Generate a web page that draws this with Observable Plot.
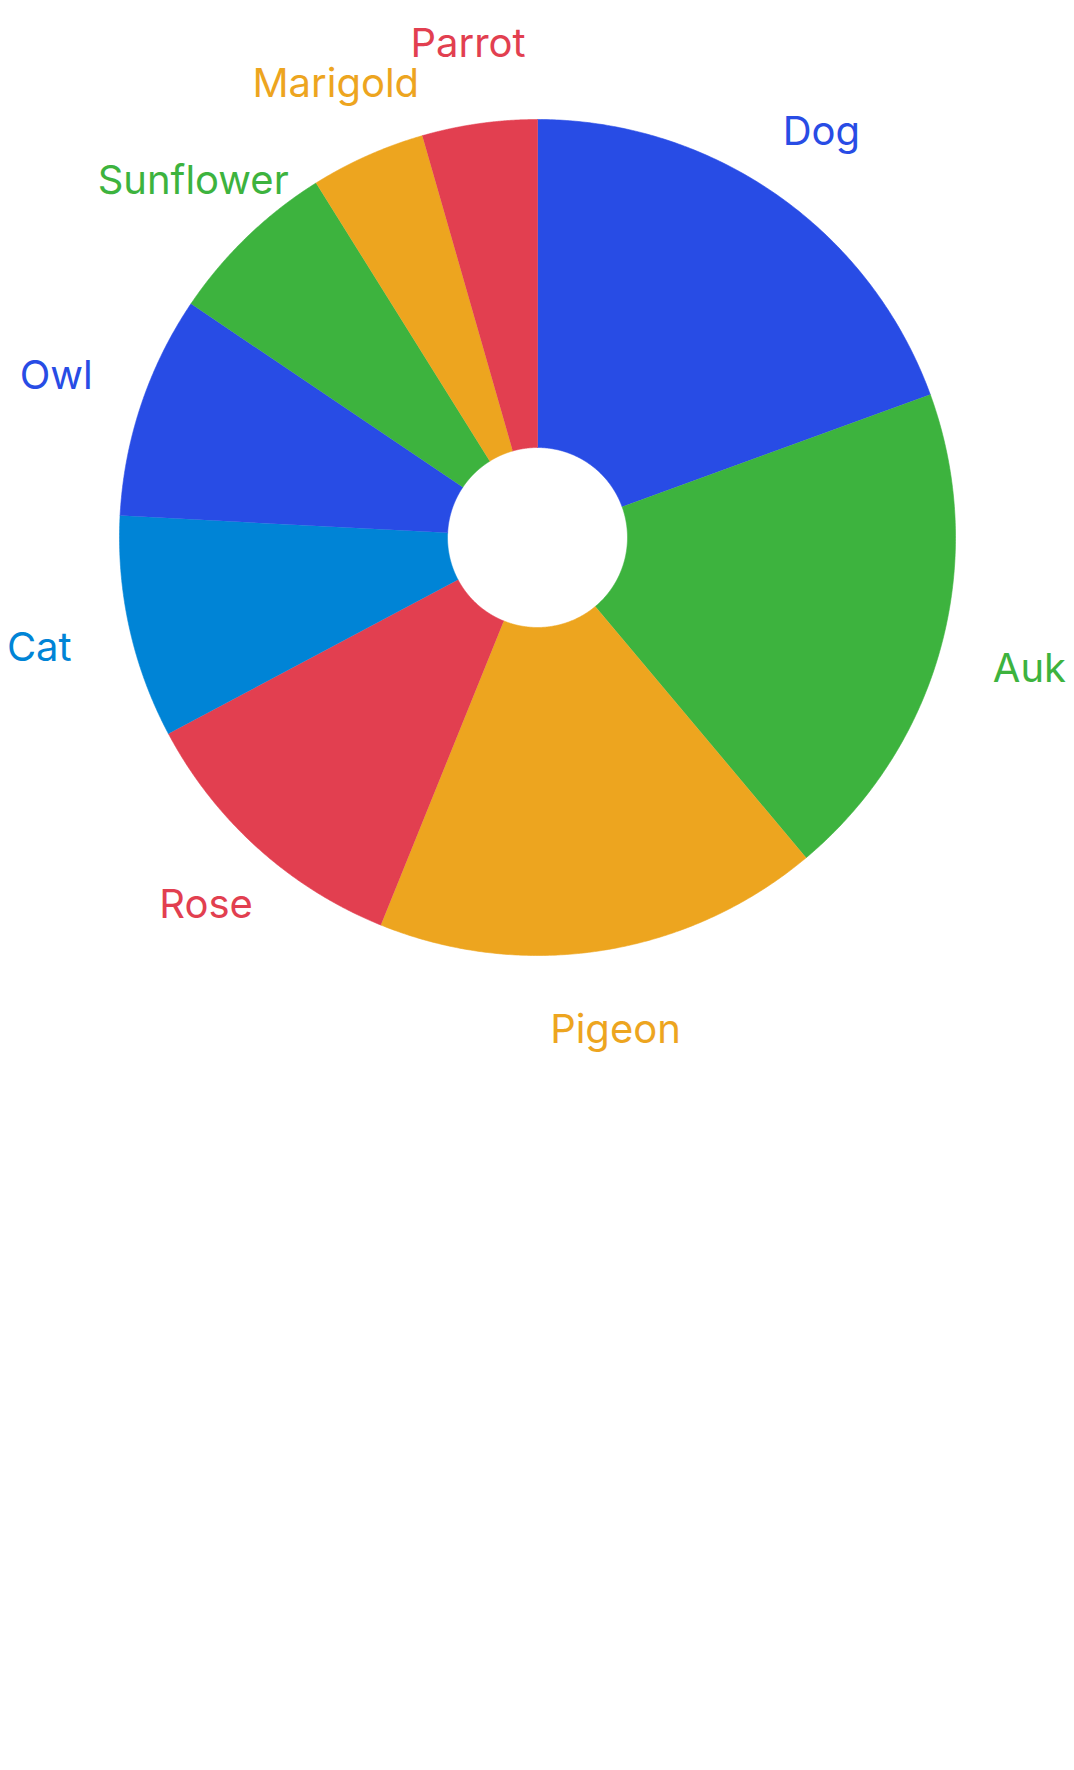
<!DOCTYPE html>
<html>
<head>
<meta charset="utf-8">
<script src="https://cdn.jsdelivr.net/npm/d3@7"></script>
<script src="https://cdn.jsdelivr.net/npm/@observablehq/plot@0.6"></script>
<style>
  html, body { margin: 0; padding: 0; background: #ffffff; }
  #chart svg { display: block; }
</style>
</head>
<body>
<div id="chart"></div>
<script>
const categories = ["Dog", "Auk", "Pigeon", "Rose", "Cat", "Owl", "Sunflower", "Marigold", "Parrot"];
const values = [70, 70, 62, 40, 31, 31, 24, 16, 16];
const colors = ["#284CE5", "#3DB33E", "#EDA51F", "#E23F50", "#0084D6", "#284CE5", "#3DB33E", "#EDA51F", "#E23F50"];

const W = 1074, H = 1074;
const outerPx = 418, innerPx = 90;
const half = (W / 2) / outerPx;
const innerR = innerPx / outerPx;

const data = categories.map((c, i) => ({category: c, value: values[i], color: colors[i]}));
const arcs = d3.pie().value(d => d.value).sort(null)(data);

const slicePts = [];
arcs.forEach(s => {
  const n = 160;
  for (let k = 0; k <= n; k++) {
    const a = s.startAngle + (s.endAngle - s.startAngle) * k / n;
    slicePts.push({category: s.data.category, color: s.data.color, x: Math.sin(a), y: Math.cos(a)});
  }
  for (let k = n; k >= 0; k--) {
    const a = s.startAngle + (s.endAngle - s.startAngle) * k / n;
    slicePts.push({category: s.data.category, color: s.data.color, x: innerR * Math.sin(a), y: innerR * Math.cos(a)});
  }
});

const labels = arcs.map(s => {
  const a = (s.startAngle + s.endAngle) / 2;
  const sn = Math.sin(a), cs = Math.cos(a);
  const r = (493 + 6 * Math.pow(cs, 8) + 20 * Math.pow(sn, 6)) / outerPx;
  return {category: s.data.category, color: s.data.color, x: r * sn, y: r * cs};
});

const chart = Plot.plot({
  width: W,
  height: H,
  margin: 0,
  x: {domain: [-half, half], axis: null},
  y: {domain: [-half, half], axis: null},
  color: {type: "identity"},
  style: {background: "#ffffff"},
  marks: [
    Plot.line(slicePts, {x: "x", y: "y", z: "category", fill: "color", stroke: "color", strokeWidth: 0.6, curve: "linear"}),
    Plot.text(labels, {x: "x", y: "y", text: "category", fill: "color", fontSize: 40, fontFamily: "Inter", fontWeight: 400})
  ]
});
document.getElementById("chart").appendChild(chart);
</script>
</body>
</html>
